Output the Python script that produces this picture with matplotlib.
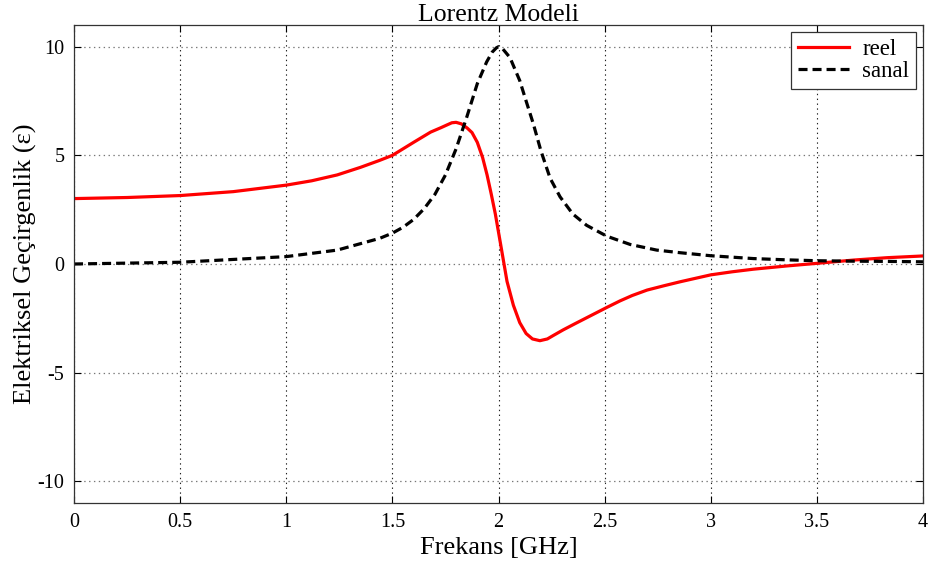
import matplotlib
matplotlib.use("Agg")
import matplotlib.pyplot as plt

# values
freq_reel = [0.0, 0.25, 0.5, 0.75, 1.0, 1.12, 1.24, 1.35, 1.44, 1.5, 1.55, 1.6, 1.68,
             1.73, 1.757, 1.78, 1.8, 1.825, 1.852, 1.875, 1.9, 1.925, 1.946, 1.965,
             1.985, 2.01, 2.04, 2.07, 2.1, 2.13, 2.16, 2.195, 2.23, 2.26, 2.305, 2.36,
             2.41, 2.45, 2.51, 2.572, 2.63, 2.7, 2.78, 2.855, 3.0, 3.1, 3.2, 3.358,
             3.5, 3.672, 3.83, 4.0]
eps_reel = [3.01, 3.06, 3.15, 3.33, 3.63, 3.83, 4.1, 4.45, 4.77, 5.0, 5.3, 5.6, 6.07,
            6.28, 6.4, 6.5, 6.52, 6.45, 6.26, 6.05, 5.6, 4.9, 4.1, 3.25,
            2.3, 0.9, -0.8, -1.9, -2.7, -3.2, -3.45, -3.53, -3.45, -3.28, -3.03, -2.75,
            -2.5, -2.3, -2.0, -1.7, -1.45, -1.2, -1.0, -0.82, -0.5, -0.36, -0.24, -0.09,
            0.03, 0.18, 0.29, 0.37]

freq_sanal = [0.0, 0.5, 1.0, 1.24, 1.44, 1.5, 1.55, 1.6, 1.65, 1.7, 1.75, 1.8,
              1.85, 1.9, 1.944, 1.97, 1.99, 2.0, 2.02, 2.054, 2.1, 2.13, 2.164, 2.2,
              2.243, 2.29, 2.35, 2.415, 2.51, 2.62, 2.745, 2.855, 3.0, 3.2, 3.36, 3.5,
              3.67, 3.83, 4.0]
eps_sanal = [0.0, 0.08, 0.34, 0.64, 1.18, 1.42, 1.69, 2.05, 2.55, 3.2, 4.1, 5.3,
             6.75, 8.3, 9.3, 9.75, 9.95, 10.0, 9.9, 9.5, 8.44, 7.5, 6.45, 5.2,
             3.95, 3.09, 2.3, 1.78, 1.28, 0.9, 0.64, 0.52, 0.38, 0.25, 0.19, 0.15,
             0.13, 0.12, 0.10]

xticks = [0, 0.5, 1, 1.5, 2, 2.5, 3, 3.5, 4]
xticklabels = ["0", "0.5", "1", "1.5", "2", "2.5", "3", "3.5", "4"]
yticks = [-10, -5, 0, 5, 10]

plt.rcParams["font.family"] = ["Liberation Serif", "DejaVu Serif"]
plt.rcParams["lines.scale_dashes"] = False
plt.rcParams["axes.unicode_minus"] = False

fig = plt.figure(figsize=(9.3, 5.67), dpi=100)
ax = fig.add_axes([0.0796, 0.1129, 0.9129, 0.843])

ax.plot(freq_reel, eps_reel, color="red", lw=2.3, label="reel")
ax.plot(freq_sanal, eps_sanal, color="black", lw=2.3, dashes=(6.5, 3.6), label="sanal")

ax.set_xlim(0, 4)
ax.set_ylim(-11, 11)
ax.set_xticks(xticks)
ax.set_xticklabels(xticklabels)
ax.set_yticks(yticks)
ax.tick_params(direction="in", top=True, right=True, labelsize=14.5, length=5, pad=7)

ax.xaxis.grid(True, color="#222222", linestyle=(0, (1, 2.5)), lw=0.8)
ax.yaxis.grid(True, color="#777777", linestyle=(0, (1, 2.5)), lw=0.9)

for s in ax.spines.values():
    s.set_linewidth(0.9)
    s.set_color("#333333")

ax.set_title("Lorentz Modeli", fontsize=18.5, pad=3)
ax.set_xlabel("Frekans [GHz]", fontsize=19, labelpad=4)
ax.set_ylabel("Elektriksel Geçirgenlik (ε)", fontsize=19, labelpad=0)

leg = ax.legend(loc="upper right", fontsize=16.5, fancybox=False, framealpha=1,
                edgecolor="#333333", borderaxespad=0.3, handlelength=2.2,
                handletextpad=0.6, labelspacing=0.05, borderpad=0.3)
leg.get_frame().set_linewidth(0.9)

fig.savefig("out.png", dpi=100)
